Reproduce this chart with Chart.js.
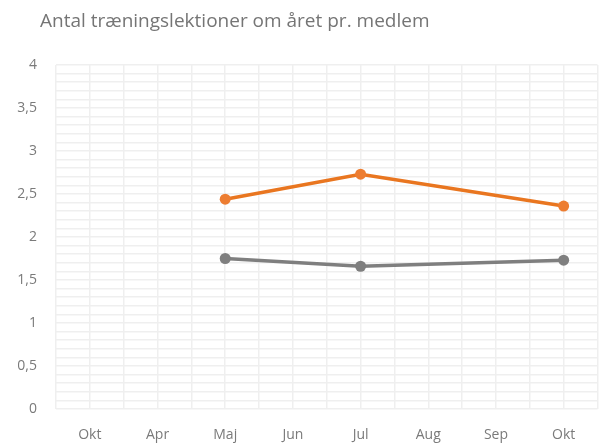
<!DOCTYPE html>
<html>
<head>
<meta charset="utf-8">
<script src="https://cdn.jsdelivr.net/npm/chart.js@4/dist/chart.umd.min.js"></script>
<style>
  html, body { margin: 0; padding: 0; background: #fff; }
  #wrap { position: relative; width: 603px; height: 444px; }
  #title {
    position: absolute; left: 40px; top: 7px;
    font-family: 'Open Sans', 'Noto Sans', sans-serif;
    font-size: 19px; color: #757575; white-space: nowrap;
  }
  #chart { position: absolute; left: 0; top: 0; }
</style>
</head>
<body>
<div id="wrap">
  <canvas id="chart" width="603" height="444"></canvas>
  <div id="title">Antal træningslektioner om året pr. medlem</div>
</div>
<script>
const months = ['Okt', 'Apr', 'Maj', 'Jun', 'Jul', 'Aug', 'Sep', 'Okt'];
const orangeValues = [null, null, 2.44, null, 2.73, null, null, 2.36];
const greyValues = [null, null, 1.75, null, 1.66, null, null, 1.73];
const yLabelsEvery = 0.5;

const fontFamily = "'Open Sans', 'Noto Sans', sans-serif";
const textColor = '#7a7a7a';
const gridColor = '#efefef';

const ctx = document.getElementById('chart').getContext('2d');
new Chart(ctx, {
    type: 'line',
    data: {
        labels: months,
        datasets: [{
            label: 'Orange',
            data: orangeValues,
            borderColor: '#e97620',
            backgroundColor: '#ed7d31',
            borderWidth: 3.5,
            pointRadius: 5.5,
            pointBorderWidth: 0,
            spanGaps: true
        }, {
            label: 'Grå',
            data: greyValues,
            borderColor: '#7f7f7f',
            backgroundColor: '#7f7f7f',
            borderWidth: 3.5,
            pointRadius: 5.5,
            pointBorderWidth: 0,
            spanGaps: true
        }]
    },
    options: {
        responsive: false,
        animation: false,
        layout: { padding: { left: 0, right: 0, top: 65, bottom: 0 } },
        plugins: {
            legend: { display: false },
            tooltip: { enabled: false }
        },
        scales: {
            x: {
                offset: true,
                afterFit: (scale) => { scale.height = 35; },
                grid: { offset: false, color: gridColor, lineWidth: 1.5, drawTicks: false },
                border: { display: false },
                ticks: { color: textColor, font: { family: fontFamily, size: 14 }, padding: 18 }
            },
            x2: {
                labels: months,
                position: 'top',
                offset: true,
                grid: { offset: true, color: gridColor, lineWidth: 1.5, drawTicks: false },
                border: { display: false },
                ticks: { display: false }
            },
            y: {
                min: 0,
                max: 4,
                afterFit: (scale) => { scale.width = 56; },
                grid: { color: gridColor, lineWidth: 1.5, drawTicks: false },
                border: { display: false },
                ticks: {
                    stepSize: 0.1,
                    autoSkip: false,
                    color: textColor,
                    padding: 19,
                    font: { family: fontFamily, size: 14 },
                    callback: (v) => {
                        const r = Math.round(v * 10) / 10;
                        if (Math.abs(r / yLabelsEvery - Math.round(r / yLabelsEvery)) > 1e-6) return '';
                        return String(r).replace('.', ',');
                    }
                }
            }
        }
    }
});
</script>
</body>
</html>
